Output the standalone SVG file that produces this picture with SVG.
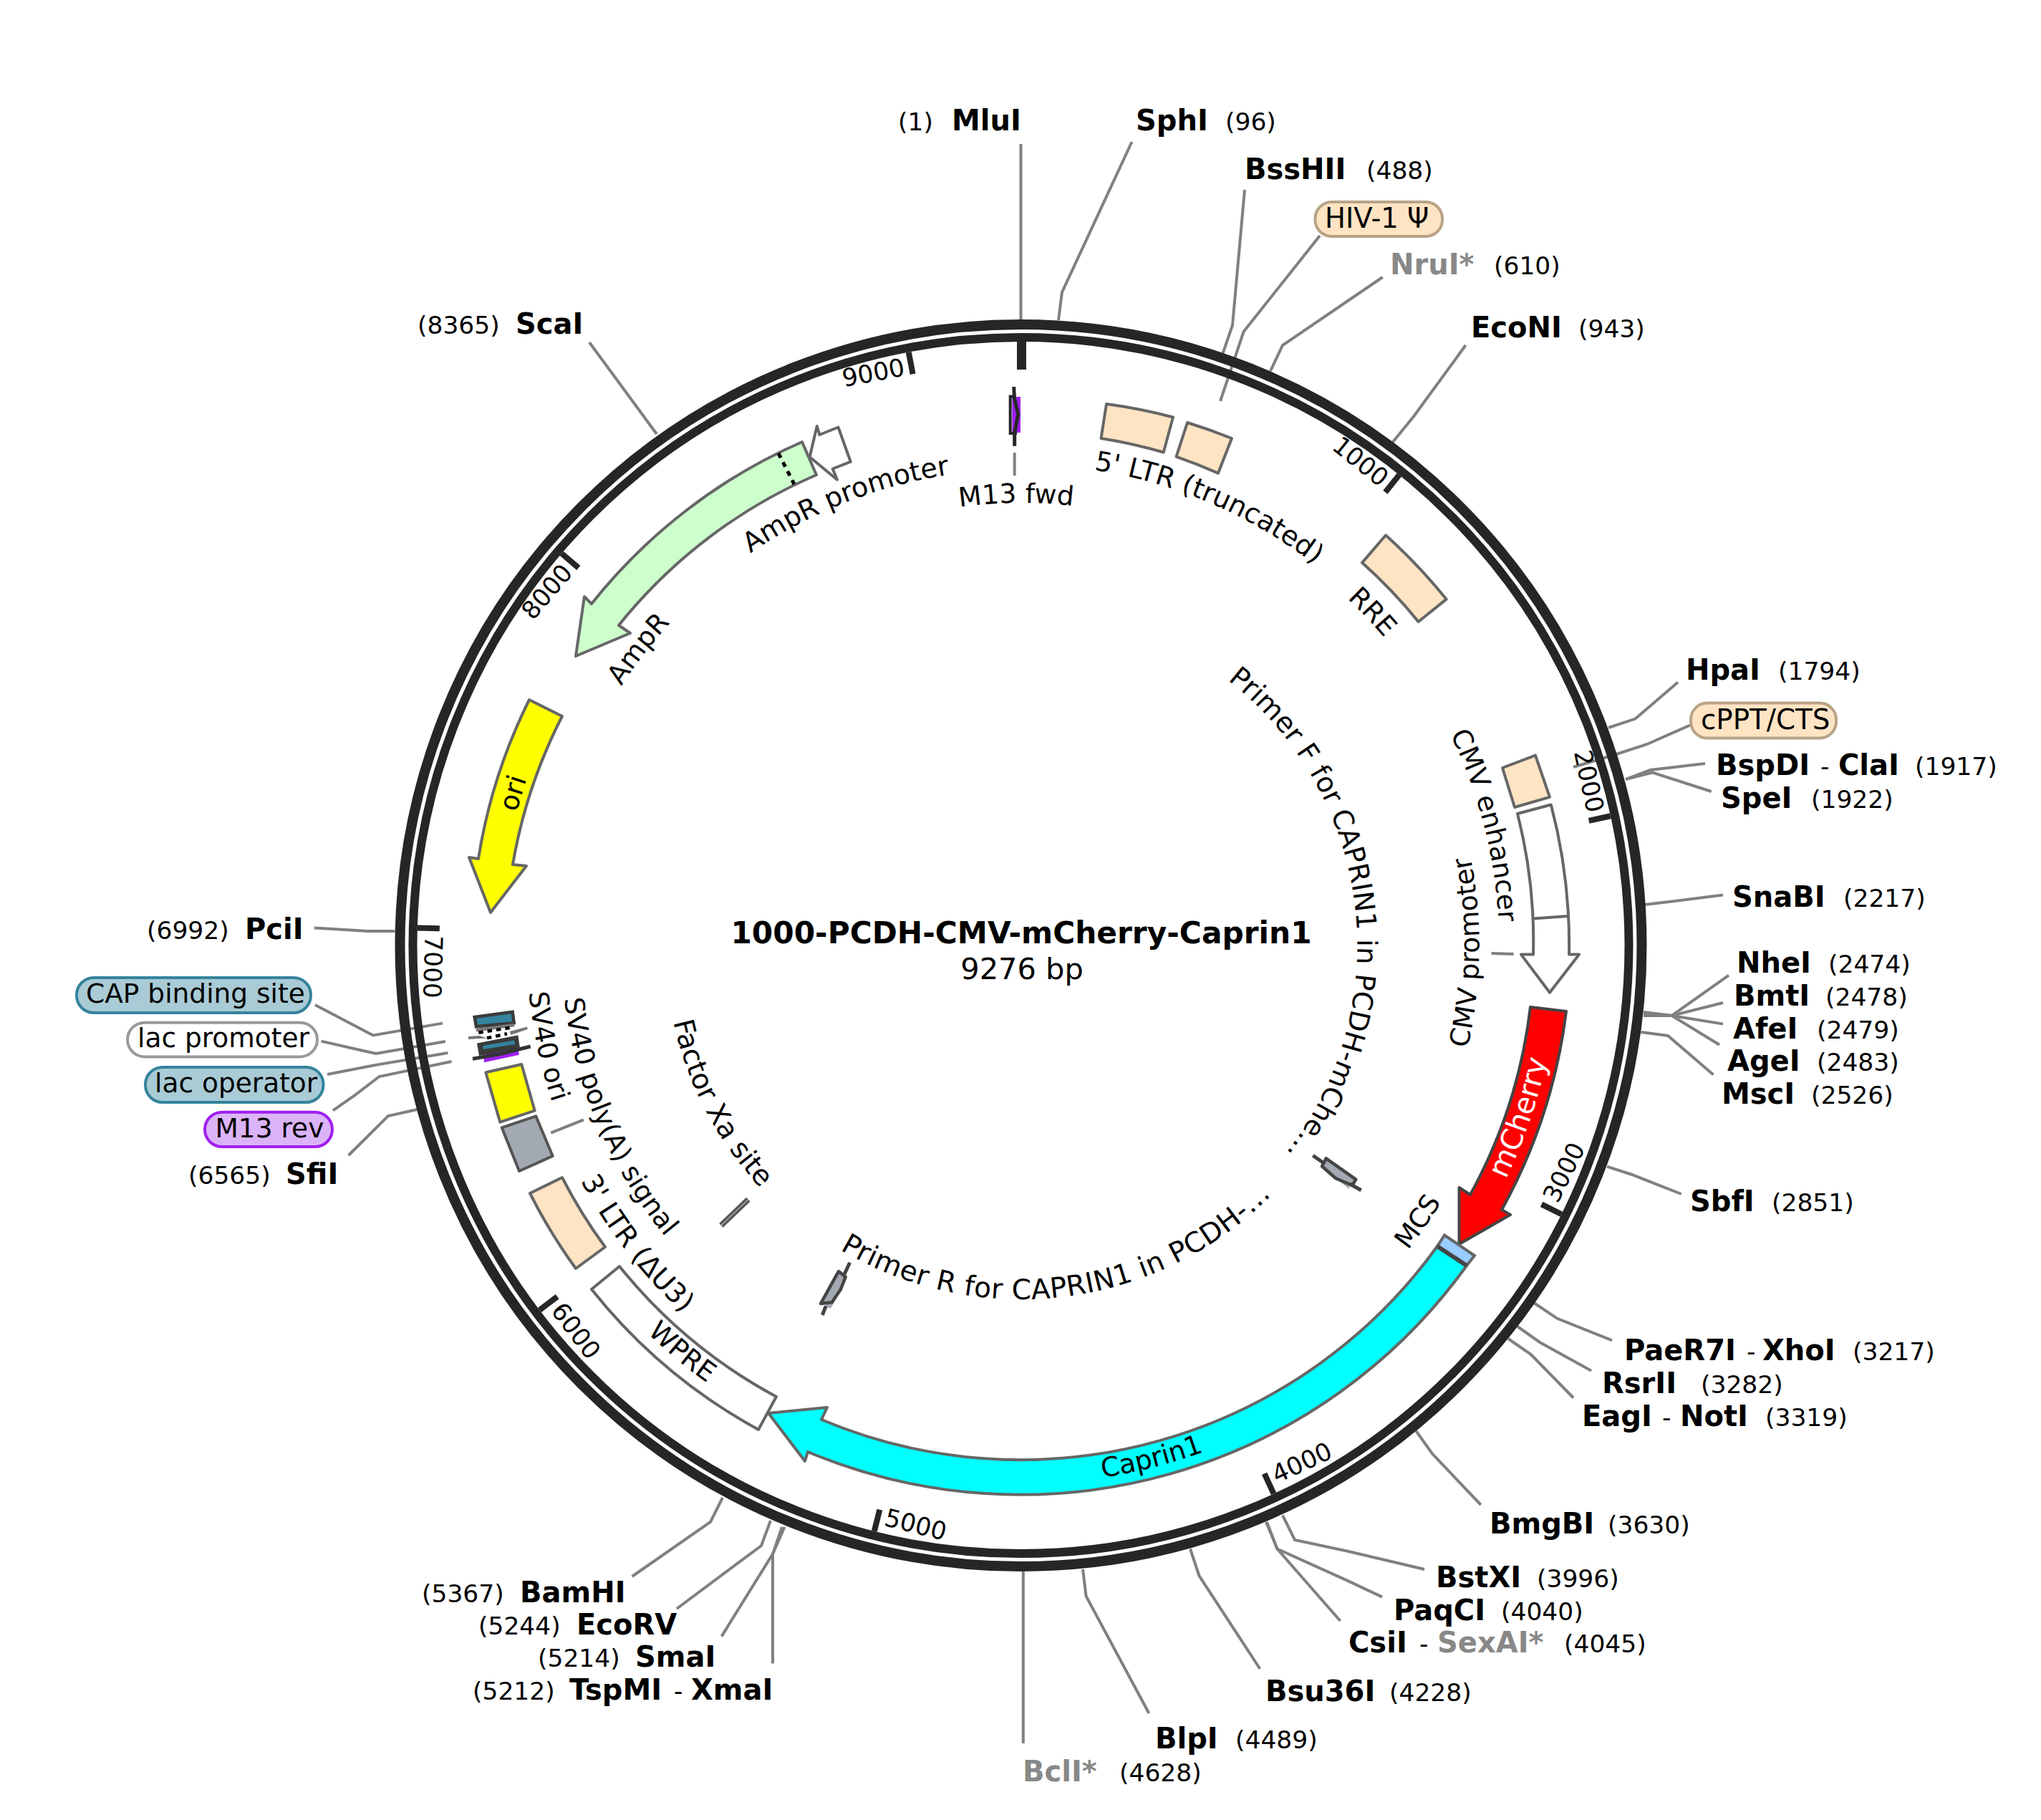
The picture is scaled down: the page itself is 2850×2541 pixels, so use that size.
<svg xmlns="http://www.w3.org/2000/svg" width="2850" height="2541" viewBox="0 0 2850 2541">
<style>
text{font-family:"DejaVu Sans","Liberation Sans",sans-serif;fill:#000}
.b{font-weight:700;font-size:40px}
.n{font-size:34.5px}
.g{fill:#888}
.l{font-size:37.5px}
.t{font-size:34.5px}
.c{fill:none;stroke:#808080;stroke-width:4}
.ring{fill:none;stroke:#262626}
.tick{stroke:#262626;stroke-width:8}
.f{stroke:#666;stroke-width:4;stroke-linejoin:round}
.peach{fill:#ffe4c4}
.white{fill:#fff}
.pb{fill:#ffe4c4;stroke:#b8a386;stroke-width:4}
.pt{fill:#a9cbd6;stroke:#34839c;stroke-width:4}
.m{text-anchor:middle}
.e{text-anchor:end}
</style>
<defs>
<path id="t470" d="M955.5,1320A470,470 0 0 1 1895.5,1320"/>
<path id="t618" d="M807.5,1320A618,618 0 0 1 2043.5,1320"/>
<path id="t665" d="M760.5,1320A665,665 0 0 1 2090.5,1320"/>
<path id="t668" d="M757.5,1320A668,668 0 0 1 2093.5,1320"/>
<path id="t672" d="M753.5,1320A672,672 0 0 1 2097.5,1320"/>
<path id="t728" d="M697.5,1320A728,728 0 0 1 2153.5,1320"/>
<path id="b494" d="M931.5,1320A494,494 0 0 0 1919.5,1320"/>
<path id="b497" d="M928.5,1320A497,497 0 0 0 1922.5,1320"/>
<path id="b640" d="M785.5,1320A640,640 0 0 0 2065.5,1320"/>
<path id="b642" d="M783.5,1320A642,642 0 0 0 2067.5,1320"/>
<path id="b688" d="M737.5,1320A688,688 0 0 0 2113.5,1320"/>
<path id="b690" d="M735.5,1320A690,690 0 0 0 2115.5,1320"/>
<path id="b697" d="M728.5,1320A697,697 0 0 0 2122.5,1320"/>
<path id="b752" d="M673.5,1320A752,752 0 0 0 2177.5,1320"/>
</defs>

<g id="connectors">
<polyline class="c" points="1425.5,201 1425.5,446"/>
<polyline class="c" points="1580.5,198 1483,408 1478,447"/>
<polyline class="c" points="1738,265 1721,454 1707,495"/>
<polyline class="c" points="1843,329 1736.6,463 1704,560"/>
<polyline class="c" points="1930.6,387 1791,482 1774,518"/>
<polyline class="c" points="2046.6,482 1974,581.5 1945,617"/>
<polyline class="c" points="2343,952.5 2283.4,1003.6 2246,1016"/>
<polyline class="c" points="2361,1012 2300,1039 2257,1053 2197,1071"/>
<polyline class="c" points="2381,1066 2304.7,1075 2270,1088"/>
<polyline class="c" points="2389.6,1105 2307.5,1078.6 2270,1088"/>
<polyline class="c" points="2406,1249.5 2339,1258 2297,1263"/>
<polyline class="c" points="2414,1361.7 2334.5,1418 2295,1413"/>
<polyline class="c" points="2406,1400 2334.5,1418 2295,1414"/>
<polyline class="c" points="2406,1429.6 2334.5,1418 2295,1416"/>
<polyline class="c" points="2401,1458.7 2334.5,1418 2295,1418"/>
<polyline class="c" points="2392.5,1500.5 2329,1446 2291.5,1441"/>
<polyline class="c" points="2347.7,1667 2279,1640 2244,1628.6"/>
<polyline class="c" points="2251,1871.4 2174.5,1840.8 2142,1819"/>
<polyline class="c" points="2222,1913.8 2150,1874 2119,1852"/>
<polyline class="c" points="2197,1951.5 2137.5,1890.8 2106,1869"/>
<polyline class="c" points="2067.8,2101 2000,2029.6 1977.5,1998"/>
<polyline class="c" points="1989,2191 1882,2165.8 1808,2150 1791,2115.5"/>
<polyline class="c" points="1930,2229.6 1879,2205.6 1783.5,2162.5 1768,2125"/>
<polyline class="c" points="1871.5,2263 1783.5,2162.5 1769,2125"/>
<polyline class="c" points="1759.4,2330 1674.5,2200 1662,2162.5"/>
<polyline class="c" points="1604.4,2392 1516.6,2228.5 1512,2191"/>
<polyline class="c" points="1428.8,2434 1428.8,2194"/>
<polyline class="c" points="882.6,2201 992,2125 1009,2091"/>
<polyline class="c" points="945,2246 1063,2158 1076,2123"/>
<polyline class="c" points="1007.6,2284.6 1079,2169.6 1092,2132"/>
<polyline class="c" points="1079,2322.5 1079,2169.6 1095.5,2132"/>
<polyline class="c" points="486.7,1613 542,1558 582.6,1549"/>
<polyline class="c" points="465,1550.4 493,1531 529.6,1503 630.6,1482"/>
<polyline class="c" points="457,1500 526,1486.6 625.5,1470"/>
<polyline class="c" points="448.5,1453.6 525,1471 622,1454"/>
<polyline class="c" points="440,1403 521,1445.5 618,1428.6"/>
<polyline class="c" points="439,1295.5 513,1300 551.5,1300"/>
<polyline class="c" points="823,478 917,606"/>
<polyline class="c" points="1416.7,632 1416.7,664"/>
<polyline class="c" points="2082.5,1331 2113.5,1332"/>
<polyline class="c" points="769.3,1581.7 815,1563.3"/>
</g>

<g id="backbone">
<circle class="ring" cx="1425.5" cy="1320" r="867" stroke-width="14"/>
<circle class="ring" cx="1425.5" cy="1320" r="849" stroke-width="12"/>
<line class="tick" x1="1426.5" y1="477" x2="1426.5" y2="516" style="stroke-width:13"/>
<g id="tick-1000"><line class="tick" x1="1425.5" y1="477" x2="1425.5" y2="508" transform="rotate(38.81 1425.5 1320)"/><text class="t e" x="1415.5" y="508" transform="rotate(38.81 1425.5 1320)">1000</text></g>
<g id="tick-2000"><line class="tick" x1="1425.5" y1="477" x2="1425.5" y2="508" transform="rotate(77.62 1425.5 1320)"/><text class="t e" x="1415.5" y="508" transform="rotate(77.62 1425.5 1320)">2000</text></g>
<g id="tick-3000"><line class="tick" x1="1425.5" y1="477" x2="1425.5" y2="508" transform="rotate(116.43 1425.5 1320)"/><text class="t" x="1435.5" y="2152" transform="rotate(-63.57 1425.5 1320)">3000</text></g>
<g id="tick-4000"><line class="tick" x1="1425.5" y1="477" x2="1425.5" y2="508" transform="rotate(155.24 1425.5 1320)"/><text class="t" x="1435.5" y="2152" transform="rotate(-24.76 1425.5 1320)">4000</text></g>
<g id="tick-5000"><line class="tick" x1="1425.5" y1="477" x2="1425.5" y2="508" transform="rotate(194.05 1425.5 1320)"/><text class="t" x="1435.5" y="2152" transform="rotate(14.05 1425.5 1320)">5000</text></g>
<g id="tick-6000"><line class="tick" x1="1425.5" y1="477" x2="1425.5" y2="508" transform="rotate(232.86 1425.5 1320)"/><text class="t" x="1435.5" y="2152" transform="rotate(52.86 1425.5 1320)">6000</text></g>
<g id="tick-7000"><line class="tick" x1="1425.5" y1="477" x2="1425.5" y2="508" transform="rotate(271.67 1425.5 1320)"/><text class="t" x="1435.5" y="2152" transform="rotate(91.67 1425.5 1320)">7000</text></g>
<g id="tick-8000"><line class="tick" x1="1425.5" y1="477" x2="1425.5" y2="508" transform="rotate(310.48 1425.5 1320)"/><text class="t e" x="1415.5" y="508" transform="rotate(310.48 1425.5 1320)">8000</text></g>
<g id="tick-9000"><line class="tick" x1="1425.5" y1="477" x2="1425.5" y2="508" transform="rotate(349.29 1425.5 1320)"/><text class="t e" x="1415.5" y="508" transform="rotate(349.29 1425.5 1320)">9000</text></g>
</g>

<g id="feature-M13fwd">
<rect x="1413.3" y="554" width="11.7" height="50" fill="#a020f0"/>
<path d="M1418,553.5H1410.7V605H1420" fill="none" stroke="#262626" stroke-width="4"/>
<path d="M1415.7,540L1416.5,556L1421.7,578.3L1416.7,605V622.7" fill="none" stroke="#262626" stroke-width="5"/>
<text class="l m" transform="rotate(-0.6 1425.5 1320)"><textPath href="#t618" startOffset="50%">M13 fwd</textPath></text>
</g>
<g id="feature-5LTR">
<path class="f peach" d="M1545,564A767,767 0 0 1 1638,582.5L1624.7,631.5A717,717 0 0 0 1537.5,612Z"/>
<path class="f peach" d="M1658,590A767,767 0 0 1 1720,612L1701,660.6A717,717 0 0 0 1642.5,637.6Z"/>
<text class="l m" style="font-size:38px" transform="rotate(23.2 1425.5 1320)"><textPath href="#t672" startOffset="50%">5' LTR (truncated)</textPath></text>
</g>
<g id="feature-RRE">
<path class="f peach" d="M1935,747.3A767,767 0 0 1 2019.6,836.6L1980.6,868A717,717 0 0 0 1902,785.6Z"/>
<text class="l m" transform="rotate(46.5 1425.5 1320)"><textPath href="#t665" startOffset="50%">RRE</textPath></text>
</g>
<g id="feature-cPPT">
<path class="f peach" d="M2144,1054.6L2164,1112.8L2115,1127L2098,1072Z"/>
</g>
<g id="feature-CMVenhancer">
<path class="f white" d="M2165.8,1123.5L2119,1136A717,717 0 0 1 2141,1332.6L2124,1332.6L2164,1385.7L2205,1332.6L2191,1332.6A767,767 0 0 0 2165.8,1123.5Z"/>
<text class="l m" transform="rotate(75.5 1425.5 1320)"><textPath href="#t668" startOffset="50%">CMV enhancer</textPath></text>
</g>
<g id="feature-CMVpromoter">
<path class="f" fill="none" d="M2141,1282.6L2190,1279"/>
<text class="l m" transform="rotate(-89.1 1425.5 1320)"><textPath href="#b640" startOffset="50%">CMV promoter</textPath></text>
</g>
<g id="feature-mCherry">
<path d="M2137,1406L2187,1412A767,767 0 0 1 2097,1689L2109,1696L2037.5,1737L2037.5,1658L2053,1668A717,717 0 0 0 2137,1406Z" fill="#f00" stroke="#444" stroke-width="4" stroke-linejoin="round"/>
<text class="l m" style="fill:#fff;font-size:41px" transform="rotate(-71 1425.5 1320)"><textPath href="#b752" startOffset="50%">mCherry</textPath></text>
</g>
<g id="feature-Caprin1">
<path class="f" fill="#0ff" d="M2007,1740L2048,1767A767,767 0 0 1 1128,2027L1124,2040L1073,1973L1155,1965L1147,1982A717,717 0 0 0 2007,1740Z"/>
<text class="l m" transform="rotate(-14.3 1425.5 1320)"><textPath href="#b752" startOffset="50%">Caprin1</textPath></text>
</g>
<g id="feature-MCS">
<path d="M2017,1724.5L2059,1753L2048,1767L2007,1740Z" fill="#99ccff" stroke="#666" stroke-width="4"/>
<path d="M2007,1740L2048,1767" stroke="#444" stroke-width="6"/>
<text class="l m" transform="rotate(-55.2 1425.5 1320)"><textPath href="#b688" startOffset="50%">MCS</textPath></text>
</g>
<g id="feature-WPRE">
<path class="f white" d="M865,1768A717,717 0 0 0 1084,1950L1059,1996A767,767 0 0 1 826,1800Z"/>
<text class="l m" transform="rotate(39.8 1425.5 1320)"><textPath href="#b752" startOffset="50%">WPRE</textPath></text>
</g>
<g id="feature-3LTR">
<path class="f peach" d="M785,1644A717,717 0 0 0 845,1741L804,1771A767,767 0 0 1 740,1666Z"/>
<text class="l m" style="font-size:38.5px" transform="rotate(52.2 1425.5 1320)"><textPath href="#b697" startOffset="50%">3' LTR (ΔU3)</textPath></text>
</g>
<g id="feature-SV40polyA">
<path d="M748.3,1558.3L771.7,1614L725,1635L700.7,1574.3Z" fill="#a3a9b2" stroke="#555" stroke-width="4" stroke-linejoin="round"/>
<text class="l m" transform="rotate(67 1425.5 1320)"><textPath href="#b642" startOffset="50%">SV40 poly(A) signal</textPath></text>
</g>
<g id="feature-SV40ori">
<path class="f" fill="#ff0" d="M728.3,1486L746.7,1550.7L698.3,1566.7L678.3,1497.3Z"/>
<text class="l m" transform="rotate(78 1425.5 1320)"><textPath href="#b690" startOffset="50%">SV40 ori</textPath></text>
</g>
<g id="feature-lac-cluster">
<path d="M662.7,1420L715.7,1412.7L717.7,1428.3L665,1433.3Z" fill="#33849e" stroke="#3a3a3a" stroke-width="4.5"/>
<path d="M665,1438.3L718.3,1431" stroke="#777" stroke-width="4.5" fill="none"/>
<path d="M711.7,1440L736,1433.5L736.7,1437L713.5,1445ZM654,1447L670,1446L680,1449.5L654,1451Z" fill="#777"/>
<path d="M668.3,1441.7L711.7,1435M680,1449.3L708,1443.3" stroke="#000" stroke-width="4.5" stroke-dasharray="6.5 6" fill="none"/>
<path d="M668.3,1458.3L721.7,1447.7L724,1463.3L670.7,1471.7Z" fill="#3a3a3a" stroke="#3a3a3a" stroke-width="4"/>
<path d="M674,1460L718,1452.5L719,1458L675,1465Z" fill="#33849e"/>
<path d="M675,1472.7L723.3,1464L725,1472.7L676,1483.3Z" fill="#a020f0"/>
<path d="M660,1478.3L698.3,1471.5L740.7,1461" fill="none" stroke="#333" stroke-width="5"/>
</g>
<g id="feature-ori">
<path class="f" fill="#ff0" d="M739,977L785,1000A717,717 0 0 0 716,1207L735,1209L685,1274L655,1197L668,1199A767,767 0 0 1 739,977Z"/>
<text class="l m" transform="rotate(-73.3 1425.5 1320)"><textPath href="#t728" startOffset="50%">ori</textPath></text>
</g>
<g id="feature-AmpR">
<path class="f" fill="#ccffcc" d="M1120,617A767,767 0 0 0 826,843L816,833L804,916L880,884L864,873A717,717 0 0 1 1140,663Z"/>
<path d="M1087,633L1109,676" stroke="#000" stroke-width="5" stroke-dasharray="7 7"/>
<text class="l m" transform="rotate(-52.2 1425.5 1320)"><textPath href="#t665" startOffset="50%">AmpR</textPath></text>
</g>
<g id="feature-AmpRpromoter">
<path class="f white" d="M1130.6,638L1140.8,595L1144.4,607L1170.5,596.5L1187.8,644.7L1162.7,654.5L1169,669.7Z"/>
<text class="l m" style="font-size:38px" transform="rotate(-21.6 1425.5 1320)"><textPath href="#t665" startOffset="50%">AmpR promoter</textPath></text>
</g>
<g id="feature-FactorXa">
<path d="M1044.8,1674.6L1007,1710.8" stroke="#555" stroke-width="8"/>
<path d="M1044.8,1674.6L1007,1710.8" stroke="#999" stroke-width="2"/>
<text class="l m" style="font-size:39px" transform="rotate(62.3 1425.5 1320)"><textPath href="#b497" startOffset="50%">Factor Xa site</textPath></text>
</g>
<g id="feature-PrimerF">
<path d="M1845,1629L1851,1625L1885,1648L1884,1660Z" fill="#a3a9b2"/>
<path d="M1851.7,1617.3L1893.3,1646.7L1888.3,1655L1865,1645L1846,1628.3Z" fill="#a3a9b2" stroke="#444" stroke-width="4.5" stroke-linejoin="round"/>
<path d="M1833.3,1613.3L1850,1625M1885,1653L1900.7,1661.7" fill="none" stroke="#444" stroke-width="5"/>
<text class="l m" style="font-size:38.5px" transform="rotate(83 1425.5 1320)"><textPath href="#t470" startOffset="50%">Primer F for CAPRIN1 in PCDH-mChe…</textPath></text>
</g>
<g id="feature-PrimerR">
<path d="M1183,1783L1175,1800L1160,1826.7L1152,1824L1170,1790Z" fill="#a3a9b2"/>
<path d="M1171,1775L1180.7,1782.7L1174,1800L1161.7,1818.3L1146,1820Z" fill="#a3a9b2" stroke="#444" stroke-width="4.5" stroke-linejoin="round"/>
<path d="M1186.7,1762.7L1179,1779M1153.3,1823.3L1148.3,1836" fill="none" stroke="#444" stroke-width="5"/>
<text class="l m" style="font-size:39px;letter-spacing:.5px" transform="rotate(-7.2 1425.5 1320)"><textPath href="#b494" startOffset="50%">Primer R for CAPRIN1 in PCDH-…</textPath></text>
</g>

<g id="title">
<text x="1426" y="1317" class="m" style="font-weight:700;font-size:42.3px">1000-PCDH-CMV-mCherry-Caprin1</text>
<text x="1427" y="1367" class="m" style="font-size:41.5px">9276 bp</text>
</g>

<g id="label-HIV1"><rect class="pb" x="1836.5" y="282" width="177.5" height="48" rx="23"/><text class="l" style="font-size:38.5px" x="1850" y="318">HIV-1 Ψ</text></g>
<g id="label-cPPT"><rect class="pb" x="2361" y="981.6" width="203" height="49" rx="23"/><text class="l" style="font-size:38.8px" x="2375" y="1018">cPPT/CTS</text></g>
<g id="label-CAP"><rect class="pt" x="107" y="1365" width="327" height="49" rx="24"/><text class="l" x="120" y="1400">CAP binding site</text></g>
<g id="label-lacpromoter"><rect x="178" y="1427.7" width="265" height="47.7" rx="24" fill="#fff" stroke="#999" stroke-width="4"/><text class="l" x="192" y="1462">lac promoter</text></g>
<g id="label-lacoperator"><rect class="pt" x="203" y="1490" width="248.5" height="49" rx="24"/><text class="l" x="216" y="1525">lac operator</text></g>
<g id="label-M13rev"><rect x="286" y="1552.7" width="178" height="48.3" rx="24" fill="#dbb4f8" stroke="#a020f0" stroke-width="4"/><text class="l" x="300.5" y="1588">M13 rev</text></g>

<g id="site-MluI"><text class="n" x="1254" y="182">(1)</text><text class="b" x="1329" y="182">MluI</text></g>
<g id="site-SphI"><text class="b" x="1586" y="182">SphI</text><text class="n" x="1711" y="182">(96)</text></g>
<g id="site-BssHII"><text class="b" x="1738" y="250">BssHII</text><text class="n" x="1908" y="250">(488)</text></g>
<g id="site-NruI"><text class="b g" x="1941" y="383">NruI*</text><text class="n" x="2086" y="383">(610)</text></g>
<g id="site-EcoNI"><text class="b" x="2054" y="471">EcoNI</text><text class="n" x="2204" y="471">(943)</text></g>
<g id="site-HpaI"><text class="b" x="2354" y="949">HpaI</text><text class="n" x="2483" y="949">(1794)</text></g>
<g id="site-BspDI-ClaI"><text class="b" x="2396" y="1082">BspDI</text><text class="n" x="2542" y="1082">-</text><text class="b" x="2567" y="1082">ClaI</text><text class="n" x="2674" y="1082">(1917)</text></g>
<g id="site-SpeI"><text class="b" x="2403" y="1128">SpeI</text><text class="n" x="2529" y="1128">(1922)</text></g>
<g id="site-SnaBI"><text class="b" x="2419" y="1266">SnaBI</text><text class="n" x="2574" y="1266">(2217)</text></g>
<g id="site-NheI"><text class="b" x="2425" y="1358">NheI</text><text class="n" x="2553" y="1358">(2474)</text></g>
<g id="site-BmtI"><text class="b" x="2421" y="1404">BmtI</text><text class="n" x="2549" y="1404">(2478)</text></g>
<g id="site-AfeI"><text class="b" x="2420" y="1450">AfeI</text><text class="n" x="2537" y="1450">(2479)</text></g>
<g id="site-AgeI"><text class="b" x="2412" y="1495">AgeI</text><text class="n" x="2537" y="1495">(2483)</text></g>
<g id="site-MscI"><text class="b" x="2404" y="1541">MscI</text><text class="n" x="2529" y="1541">(2526)</text></g>
<g id="site-SbfI"><text class="b" x="2360" y="1691">SbfI</text><text class="n" x="2474" y="1691">(2851)</text></g>
<g id="site-PaeR7I-XhoI"><text class="b" x="2268" y="1899">PaeR7I</text><text class="n" x="2439" y="1899">-</text><text class="b" x="2461" y="1899">XhoI</text><text class="n" x="2587" y="1899">(3217)</text></g>
<g id="site-RsrII"><text class="b" x="2237" y="1945">RsrII</text><text class="n" x="2375" y="1945">(3282)</text></g>
<g id="site-EagI-NotI"><text class="b" x="2209" y="1991">EagI</text><text class="n" x="2321" y="1991">-</text><text class="b" x="2346" y="1991">NotI</text><text class="n" x="2465" y="1991">(3319)</text></g>
<g id="site-BmgBI"><text class="b" x="2080" y="2141">BmgBI</text><text class="n" x="2245" y="2141">(3630)</text></g>
<g id="site-BstXI"><text class="b" x="2005" y="2216">BstXI</text><text class="n" x="2146" y="2216">(3996)</text></g>
<g id="site-PaqCI"><text class="b" x="1946" y="2262">PaqCI</text><text class="n" x="2096" y="2262">(4040)</text></g>
<g id="site-CsiI-SexAI"><text class="b" x="1883" y="2307">CsiI</text><text class="n" x="1982" y="2307">-</text><text class="b g" x="2007" y="2307">SexAI*</text><text class="n" x="2184" y="2307">(4045)</text></g>
<g id="site-Bsu36I"><text class="b" x="1767" y="2375">Bsu36I</text><text class="n" x="1940" y="2375">(4228)</text></g>
<g id="site-BlpI"><text class="b" x="1613" y="2441">BlpI</text><text class="n" x="1725" y="2441">(4489)</text></g>
<g id="site-BclI"><text class="b g" x="1428" y="2487">BclI*</text><text class="n" x="1563" y="2487">(4628)</text></g>
<g id="site-BamHI"><text class="n" x="589" y="2237">(5367)</text><text class="b" x="726" y="2237">BamHI</text></g>
<g id="site-EcoRV"><text class="n" x="668" y="2282">(5244)</text><text class="b" x="805" y="2282">EcoRV</text></g>
<g id="site-SmaI"><text class="n" x="751" y="2327">(5214)</text><text class="b" x="887" y="2327">SmaI</text></g>
<g id="site-TspMI-XmaI"><text class="n" x="660" y="2373">(5212)</text><text class="b" x="795" y="2373">TspMI</text><text class="n" x="941" y="2373">-</text><text class="b" x="965" y="2373">XmaI</text></g>
<g id="site-SfiI"><text class="n" x="263" y="1653">(6565)</text><text class="b" x="399" y="1653">SfiI</text></g>
<g id="site-PciI"><text class="n" x="205" y="1311">(6992)</text><text class="b" x="342" y="1311">PciI</text></g>
<g id="site-ScaI"><text class="n" x="583" y="466">(8365)</text><text class="b" x="720" y="466">ScaI</text></g>
</svg>
